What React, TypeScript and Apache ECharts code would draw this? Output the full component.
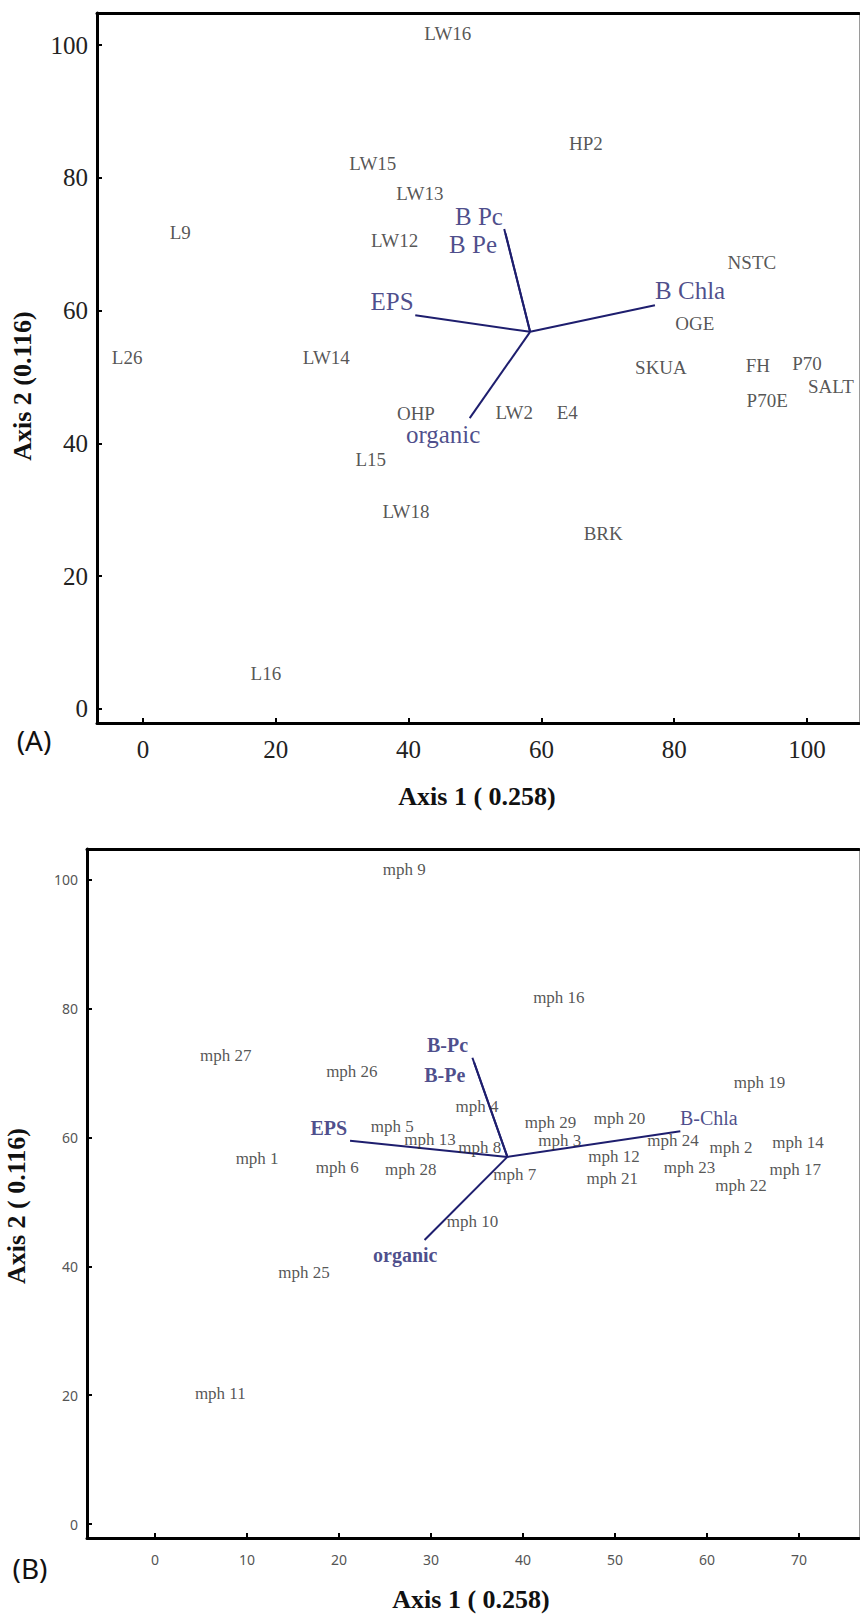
import React, { useEffect, useRef } from "react";
import * as echarts from "echarts";

// ---- Panel A: sites (name, axis 1 score, axis 2 score) ----
const sitesA: [string, number, number][] = [
  ["LW16", 45.9, 101.7],
  ["HP2", 66.7, 85.2],
  ["LW15", 34.6, 82.2],
  ["LW13", 41.7, 77.7],
  ["LW12", 37.9, 70.6],
  ["L9", 5.6, 71.7],
  ["NSTC", 91.7, 67.3],
  ["OGE", 83.1, 58.1],
  ["L26", -2.4, 52.9],
  ["LW14", 27.6, 53.0],
  ["SKUA", 78.0, 51.5],
  ["FH", 92.6, 51.8],
  ["P70", 100.0, 52.1],
  ["SALT", 103.6, 48.6],
  ["P70E", 94.0, 46.5],
  ["OHP", 41.1, 44.5],
  ["LW2", 55.9, 44.6],
  ["E4", 63.9, 44.6],
  ["L15", 34.3, 37.5],
  ["LW18", 39.6, 29.7],
  ["BRK", 69.3, 26.5],
  ["L16", 18.5, 5.4],
];

// ---- Panel A: environmental vectors ----
const vectorOriginA: [number, number] = [58.3, 56.8];
const vectorNamesA = ["B Pc", "B Pe", "B Chla", "EPS", "organic"];
const vectorEndsA: [number, number][] = [
  [54.4, 72.3],
  [54.6, 71.6],
  [77.1, 60.8],
  [41.0, 59.3],
  [49.2, 43.8],
];
const vectorLabelsA: [number, number][] = [
  [50.6, 74.2],
  [49.7, 69.9],
  [82.4, 63.0],
  [37.5, 61.3],
  [45.2, 41.3],
];

// ---- Panel B: morphotypes ----
const sitesB: [string, number, number][] = [
  ["mph 9", 27.1, 101.6],
  ["mph 16", 43.9, 81.8],
  ["mph 27", 7.7, 72.8],
  ["mph 26", 21.4, 70.2],
  ["mph 19", 65.7, 68.5],
  ["mph 4", 35.0, 64.8],
  ["mph 29", 43.0, 62.4],
  ["mph 20", 50.5, 63.0],
  ["mph 5", 25.8, 61.8],
  ["mph 13", 29.9, 59.7],
  ["mph 3", 44.0, 59.6],
  ["mph 24", 56.3, 59.6],
  ["mph 14", 69.9, 59.3],
  ["mph 8", 35.3, 58.4],
  ["mph 2", 62.6, 58.4],
  ["mph 12", 49.9, 57.0],
  ["mph 1", 11.1, 56.8],
  ["mph 23", 58.1, 55.4],
  ["mph 6", 19.8, 55.3],
  ["mph 28", 27.8, 55.0],
  ["mph 17", 69.6, 55.0],
  ["mph 7", 39.1, 54.2],
  ["mph 21", 49.7, 53.7],
  ["mph 22", 63.7, 52.6],
  ["mph 10", 34.5, 46.9],
  ["mph 25", 16.2, 39.0],
  ["mph 11", 7.1, 20.3],
];

// ---- Panel B: environmental vectors ----
const vectorOriginB: [number, number] = [38.3, 57.0];
const vectorNamesB = ["B-Pc", "B-Pe", "B-Chla", "EPS", "organic"];
const vectorEndsB: [number, number][] = [
  [34.5, 72.4],
  [34.7, 71.6],
  [57.1, 61.0],
  [21.2, 59.5],
  [29.3, 44.1],
];
const vectorLabelsB: [number, number][] = [
  [31.8, 74.4],
  [31.5, 69.7],
  [60.2, 63.0],
  [18.9, 61.5],
  [27.2, 41.8],
];
const vectorBoldB = [true, true, false, true, true];

// ---- Axis ticks ----
const ticksAx = [0, 20, 40, 60, 80, 100];
const ticksAy = [0, 20, 40, 60, 80, 100];
const ticksBx = [0, 10, 20, 30, 40, 50, 60, 70];
const ticksBy = [0, 20, 40, 60, 80, 100];

const NAVY = "#1e1e6e";
const SERIF = "Liberation Serif";
const SANS = "Noto Sans";

function mainAxis(
  gridIndex: number,
  min: number,
  max: number,
  ticks: number[],
  pos: string,
  labelFont: any,
  margin: number
) {
  return {
    type: "value",
    gridIndex,
    position: pos,
    min,
    max,
    splitLine: { show: false },
    axisLine: { show: true, onZero: false, lineStyle: { color: "#000", width: 3 } },
    axisTick: {
      show: true,
      inside: true,
      length: 5,
      customValues: ticks,
      lineStyle: { color: "#000", width: 2 },
    },
    axisLabel: { show: true, customValues: ticks, margin, ...labelFont },
  };
}

function borderAxis(gridIndex: number, min: number, max: number, pos: string, color: string, width: number) {
  return {
    type: "value",
    gridIndex,
    position: pos,
    min,
    max,
    splitLine: { show: false },
    axisLine: { show: true, onZero: false, lineStyle: { color, width } },
    axisTick: { show: false },
    axisLabel: { show: false },
  };
}

function siteSeries(name: string, rows: [string, number, number][], xi: number, yi: number, fontSize: number) {
  return {
    name,
    type: "scatter",
    xAxisIndex: xi,
    yAxisIndex: yi,
    symbolSize: 1,
    itemStyle: { color: "rgba(0,0,0,0)" },
    z: 5,
    label: {
      show: true,
      position: "inside",
      formatter: "{b}",
      color: "#2a2a2a",
      fontFamily: SERIF,
      fontSize,
    },
    data: rows.map((r) => ({ name: r[0], value: [r[1], r[2]] })),
  };
}

function vectorSeries(origin: [number, number], ends: [number, number][], xi: number, yi: number) {
  return ends.map((e, i) => ({
    name: "vector" + xi + "_" + i,
    type: "line",
    xAxisIndex: xi,
    yAxisIndex: yi,
    showSymbol: false,
    symbol: "none",
    z: 3,
    lineStyle: { color: NAVY, width: 2 },
    data: [origin, e],
  }));
}

function vectorLabelSeries(
  names: string[],
  pos: [number, number][],
  xi: number,
  yi: number,
  fontSize: number,
  bold: boolean[]
) {
  return {
    name: "vectorLabels" + xi,
    type: "scatter",
    xAxisIndex: xi,
    yAxisIndex: yi,
    symbolSize: 1,
    itemStyle: { color: "rgba(0,0,0,0)" },
    z: 6,
    label: {
      show: true,
      position: "inside",
      formatter: "{b}",
      color: NAVY,
      fontFamily: SERIF,
      fontSize,
    },
    data: names.map((n, i) => ({
      name: n,
      value: pos[i],
      label: { fontWeight: bold[i] ? "bold" : "normal" },
    })),
  };
}

function titleText(text: string, x: number, y: number, vertical: boolean) {
  return {
    type: "text",
    x,
    y,
    rotation: vertical ? Math.PI / 2 : 0,
    style: {
      text,
      fontFamily: SERIF,
      fontWeight: "bold",
      fontSize: 26,
      fill: "#111",
      align: "center",
      verticalAlign: "middle",
    },
  };
}

function panelTag(text: string, x: number, y: number) {
  return {
    type: "text",
    x,
    y,
    style: {
      text,
      fontFamily: SANS,
      fontSize: 28,
      fill: "#111",
      align: "center",
      verticalAlign: "middle",
    },
  };
}

export default function App() {
  const ref = useRef<HTMLDivElement>(null);

  useEffect(() => {
    if (!ref.current) return;
    const chart = echarts.init(ref.current, undefined, { renderer: "svg" });

    const fontA = { fontFamily: SERIF, fontSize: 25, color: "#222" };
    const fontB = { fontFamily: SANS, fontSize: 14, color: "#555" };

    const axA = { min: -6.93, max: 107.83 };
    const ayA = { min: -2.11, max: 104.82 };
    const axB = { min: -7.39, max: 76.52 };
    const ayB = { min: -2.17, max: 104.81 };

    chart.setOption({
      animation: false,
      backgroundColor: "#fff",
      grid: [
        { left: 97, top: 13, width: 762, height: 710, show: false },
        { left: 87, top: 849, width: 772, height: 689, show: false },
      ],
      xAxis: [
        mainAxis(0, axA.min, axA.max, ticksAx, "bottom", fontA, 14),
        borderAxis(0, axA.min, axA.max, "top", "#000", 3),
        mainAxis(1, axB.min, axB.max, ticksBx, "bottom", fontB, 14),
        borderAxis(1, axB.min, axB.max, "top", "#000", 3),
      ],
      yAxis: [
        mainAxis(0, ayA.min, ayA.max, ticksAy, "left", fontA, 9),
        borderAxis(0, ayA.min, ayA.max, "right", "#9a9a9a", 1),
        mainAxis(1, ayB.min, ayB.max, ticksBy, "left", fontB, 9),
        borderAxis(1, ayB.min, ayB.max, "right", "#9a9a9a", 1),
      ],
      series: [
        ...vectorSeries(vectorOriginA, vectorEndsA, 0, 0),
        siteSeries("sitesA", sitesA, 0, 0, 19),
        vectorLabelSeries(vectorNamesA, vectorLabelsA, 0, 0, 25, [false, false, false, false, false]),
        ...vectorSeries(vectorOriginB, vectorEndsB, 2, 2),
        siteSeries("sitesB", sitesB, 2, 2, 17),
        vectorLabelSeries(vectorNamesB, vectorLabelsB, 2, 2, 20, vectorBoldB),
      ],
      graphic: [
        titleText("Axis 1 ( 0.258)", 477, 796, false),
        titleText("Axis 2 (0.116)", 22, 386, true),
        panelTag("(A)", 34, 740),
        titleText("Axis 1 ( 0.258)", 471, 1599, false),
        titleText("Axis 2 ( 0.116)", 16, 1206, true),
        panelTag("(B)", 30, 1568),
      ],
    });

    return () => chart.dispose();
  }, []);

  return (
    <div
      ref={ref}
      style={{ position: "absolute", left: 0, top: 0, width: 860, height: 1614, background: "#fff" }}
    />
  );
}
